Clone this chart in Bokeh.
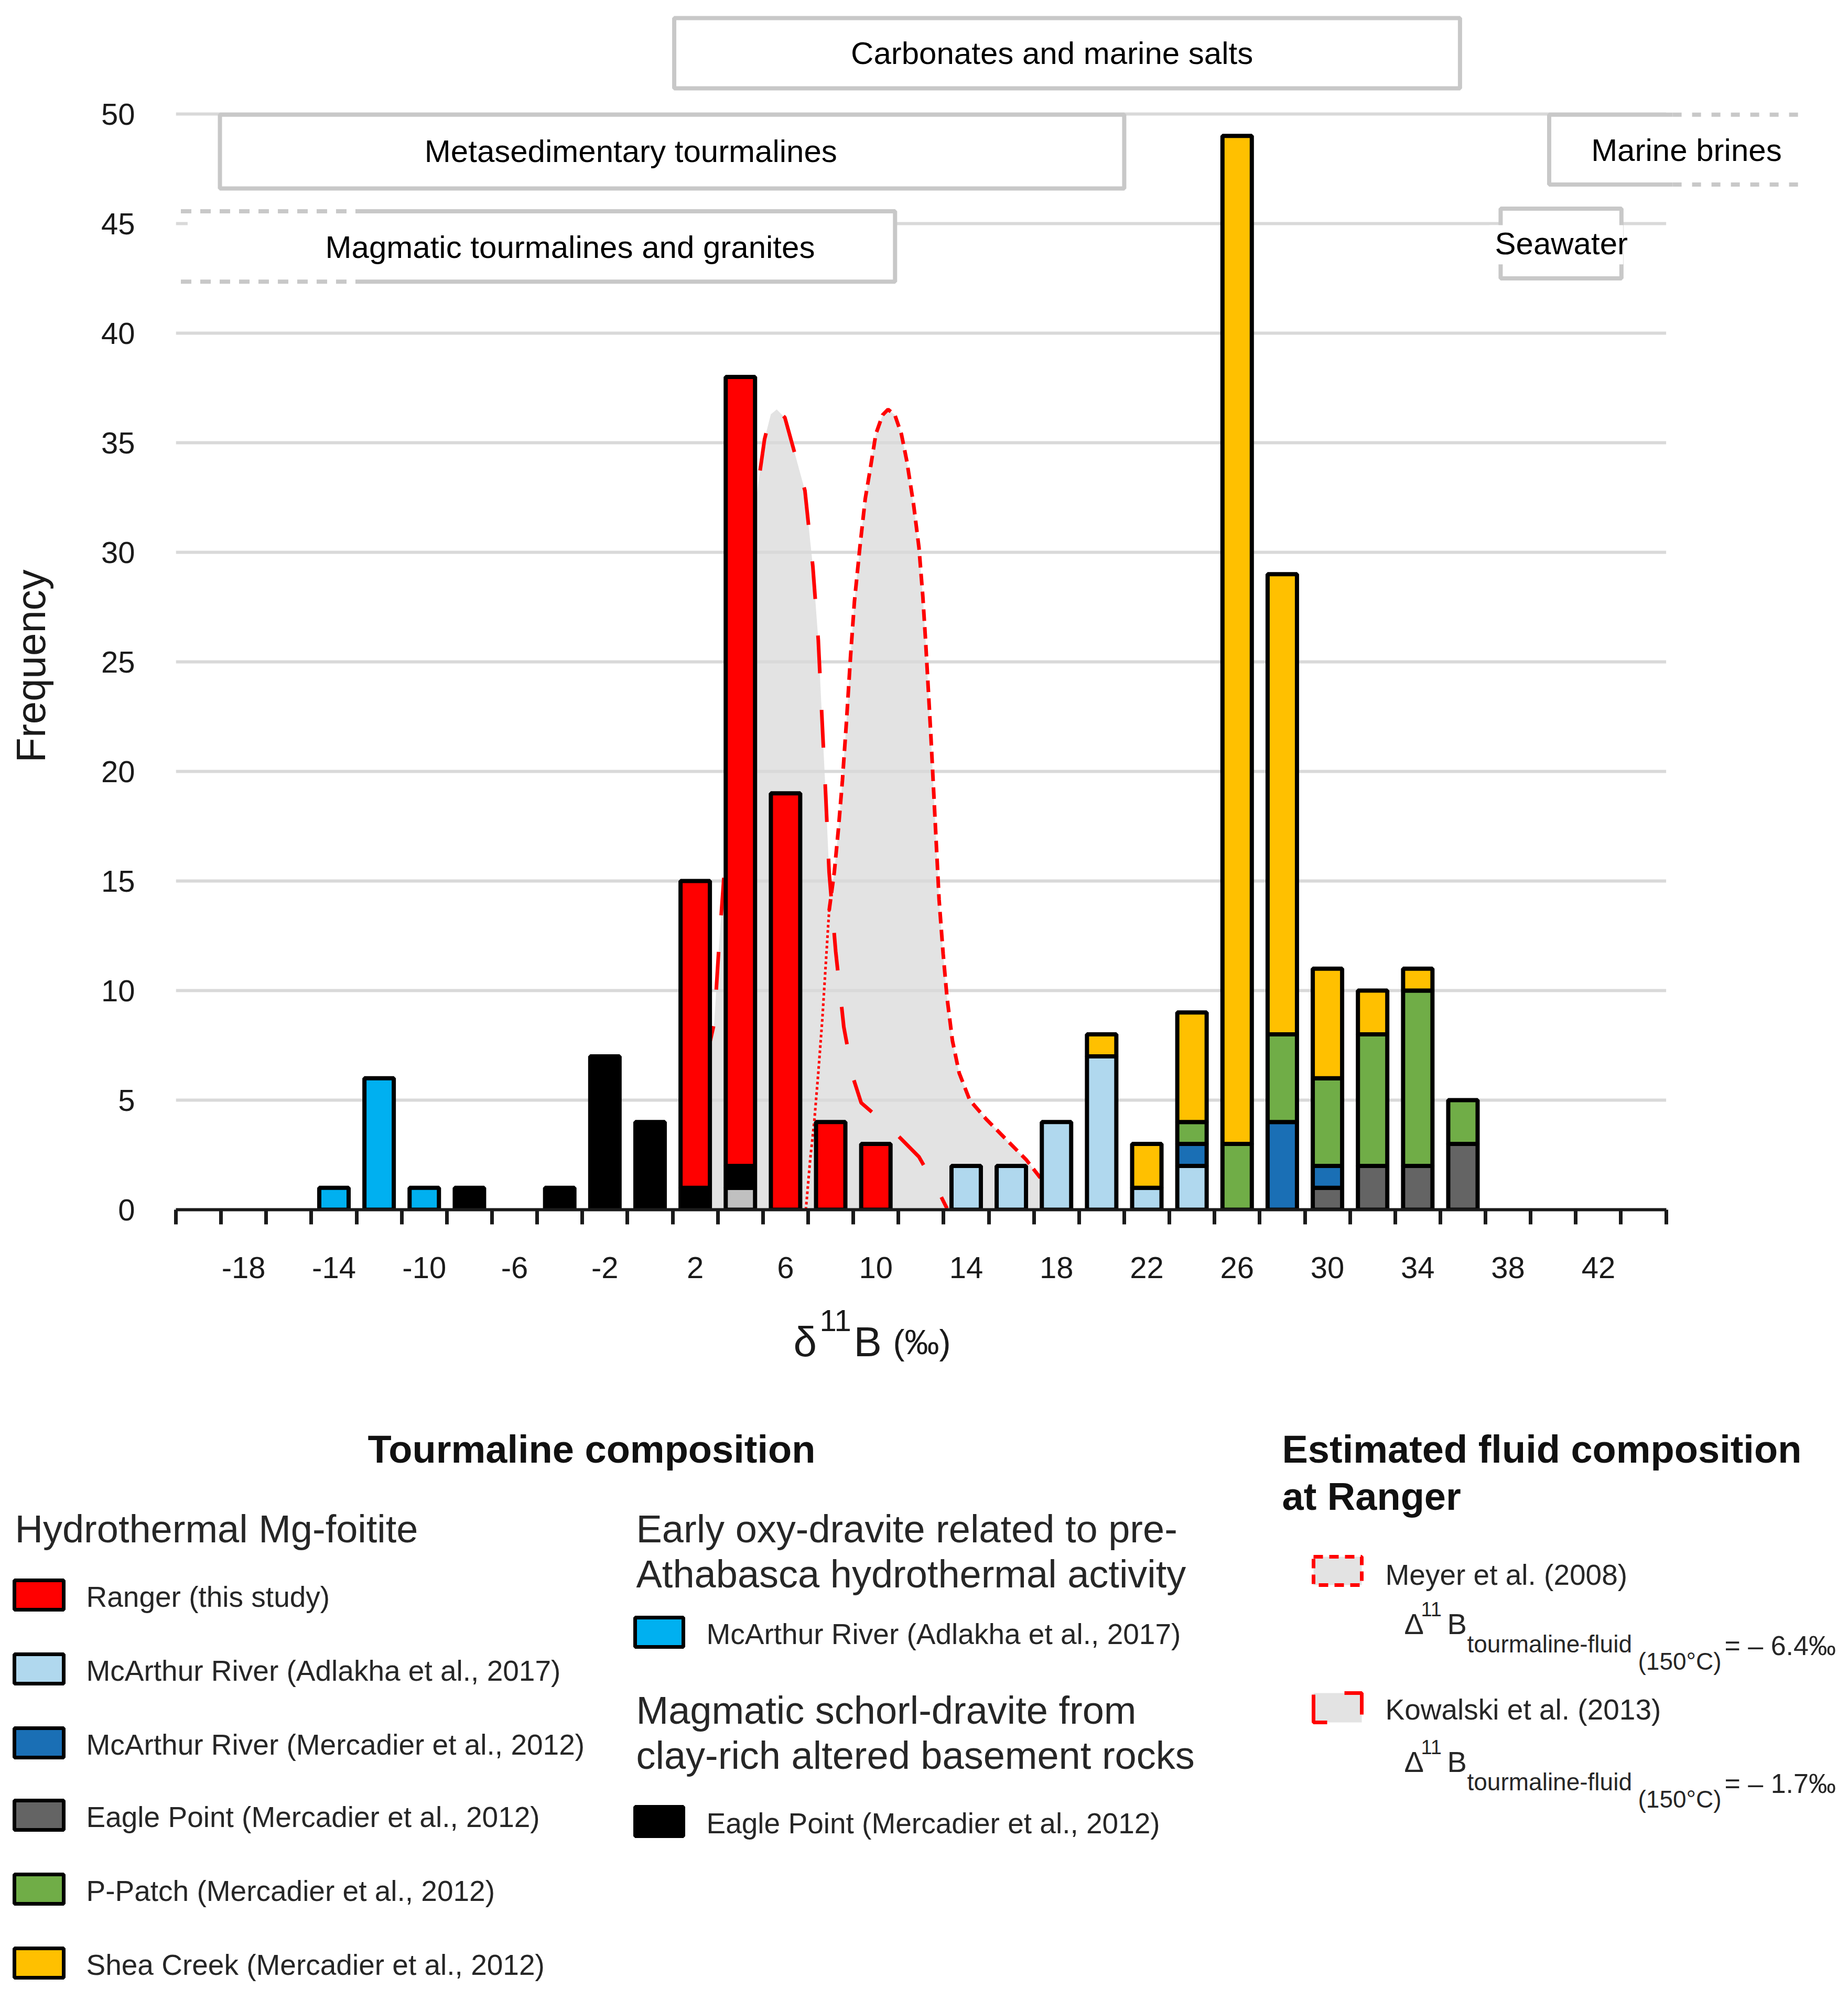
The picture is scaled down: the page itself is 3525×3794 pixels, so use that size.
import numpy as np
from bokeh.plotting import figure
from bokeh.models import Range1d, FixedTicker
from bokeh.layouts import column, row
from bokeh.embed import file_html
from bokeh.resources import INLINE
from bokeh.core.properties import value

FONT = "Liberation Sans"

# ------------------------------------------------------------------ data
categories = list(range(-20, 46, 2))          # bin centres of delta11B (permil)
bin_edges = list(range(-21, 47, 2))           # minor ticks (bin boundaries)
label_ticks = list(range(-18, 43, 4))         # labelled categories
freq_ticks = list(range(0, 51, 5))

#                    -20 -18 -16 -14 -12 -10 -8 -6 -4 -2  0  2   4   6  8  10 12 14 16 18 20 22 24 26  28 30 32 34 36 38 40 42 44
light_gray_series  = [0,  0,  0,  0,  0,  0,  0, 0, 0, 0, 0, 0,  1,  0, 0, 0, 0, 0, 0, 0, 0, 0, 0, 0,  0, 0, 0, 0, 0, 0, 0, 0, 0]
eagle_hydro        = [0,  0,  0,  0,  0,  0,  0, 0, 0, 0, 0, 0,  0,  0, 0, 0, 0, 0, 0, 0, 0, 0, 0, 0,  0, 1, 2, 2, 3, 0, 0, 0, 0]
eagle_magmatic     = [0,  0,  0,  0,  0,  0,  1, 0, 1, 7, 4, 1,  1,  0, 0, 0, 0, 0, 0, 0, 0, 0, 0, 0,  0, 0, 0, 0, 0, 0, 0, 0, 0]
mcarthur_oxy       = [0,  0,  0,  1,  6,  1,  0, 0, 0, 0, 0, 0,  0,  0, 0, 0, 0, 0, 0, 0, 0, 0, 0, 0,  0, 0, 0, 0, 0, 0, 0, 0, 0]
mcarthur_adlakha   = [0,  0,  0,  0,  0,  0,  0, 0, 0, 0, 0, 0,  0,  0, 0, 0, 0, 2, 2, 4, 7, 1, 2, 0,  0, 0, 0, 0, 0, 0, 0, 0, 0]
mcarthur_mercadier = [0,  0,  0,  0,  0,  0,  0, 0, 0, 0, 0, 0,  0,  0, 0, 0, 0, 0, 0, 0, 0, 0, 1, 0,  4, 1, 0, 0, 0, 0, 0, 0, 0]
p_patch            = [0,  0,  0,  0,  0,  0,  0, 0, 0, 0, 0, 0,  0,  0, 0, 0, 0, 0, 0, 0, 0, 0, 1, 3,  4, 4, 6, 8, 2, 0, 0, 0, 0]
shea_creek         = [0,  0,  0,  0,  0,  0,  0, 0, 0, 0, 0, 0,  0,  0, 0, 0, 0, 0, 0, 0, 1, 2, 5, 46, 21, 5, 2, 1, 0, 0, 0, 0, 0]
ranger             = [0,  0,  0,  0,  0,  0,  0, 0, 0, 0, 0, 14, 36, 19, 4, 3, 0, 0, 0, 0, 0, 0, 0, 0,  0, 0, 0, 0, 0, 0, 0, 0, 0]

RED, LIGHT_BLUE, DARK_BLUE = "#ff0000", "#b0d8ee", "#1a6fb5"
DARK_GRAY, GREEN, YELLOW = "#646464", "#70ad47", "#ffc000"
BRIGHT_BLUE, BLACK, LIGHT_GRAY = "#00b0f0", "#000000", "#c0c0c0"
FILL_GRAY, GRID, BOX = "#e3e3e3", "#d9d9d9", "#c8c8c8"

stack_series = [light_gray_series, eagle_hydro, eagle_magmatic, mcarthur_oxy,
                mcarthur_adlakha, mcarthur_mercadier, p_patch, shea_creek, ranger]
stack_colors = [LIGHT_GRAY, DARK_GRAY, BLACK, BRIGHT_BLUE,
                LIGHT_BLUE, DARK_BLUE, GREEN, YELLOW, RED]

# estimated fluid composition curves
kowalski_x = [1.4, 1.9, 2.4, 2.84, 3.05, 3.23, 3.6, 4.0, 4.4, 4.8, 5.07, 5.35, 5.61, 5.97,
              6.44, 6.86, 7.21, 7.45, 7.62, 7.78, 7.93, 8.22, 8.58, 9.0, 9.35, 10.72, 11.91, 12.74, 13.15]
kowalski_y = [0.0, 4.5, 6.5, 8.5, 12.0, 14.6, 20.0, 25.5, 30.0, 33.2, 35.16, 36.3, 36.52, 36.15,
              34.4, 32.81, 29.35, 26.0, 22.3, 18.9, 15.4, 11.8, 8.34, 6.0, 4.88, 3.65, 2.41, 0.9, 0.06]
meyer_x = [6.9, 7.09, 7.27, 7.45, 7.63, 7.93, 8.16, 8.34, 8.52, 8.70, 8.88, 9.05, 9.29, 9.53, 9.77,
           10.0, 10.3, 10.54, 10.84, 11.13, 11.37, 11.67, 11.91, 12.08, 12.2, 12.32, 12.44, 12.56,
           12.68, 12.8, 12.98, 13.15, 13.39, 13.69, 14.16, 14.88, 15.71, 16.66, 17.31, 17.9, 18.5]
meyer_y = [0.0, 2.28, 4.0, 6.24, 8.71, 13.65, 15.4, 17.36, 19.6, 22.3, 25.27, 27.74, 30.21, 32.44, 33.92,
           35.4, 36.27, 36.52, 36.27, 35.4, 34.17, 32.19, 30.21, 27.99, 26.0, 23.79, 21.56, 19.09,
           16.62, 14.15, 11.68, 9.7, 7.72, 6.24, 5.0, 4.14, 3.27, 2.28, 1.42, 0.6, 0.0]

# reference reservoirs (delta11B ranges drawn as boxes above the histogram)
carb_range = [1.07, 35.87, 51.17, 54.38]
metased_range = [-19.05, 21.0, 46.6, 49.97]
magmatic_range = [-20.78, -12.63, 10.85, 42.35, 45.56]   # start, end of dashed part, end, bottom, top
brines_range = [39.82, 45.29, 50.9, 46.78, 49.97]        # start, end of solid part, end, bottom, top
seawater_range = [37.67, 43.02, 42.5, 45.68]
reservoir_names = ["Carbonates and marine salts", "Metasedimentary tourmalines",
                   "Magmatic tourmalines and granites", "Marine brines", "Seawater"]
reservoir_text_x = [17.8, -0.85, -3.54, 45.9, 40.36]
reservoir_text_y = [52.77, 48.3, 43.93, 48.35, 44.08]

# ------------------------------------------------------------------ geometry (page pixels)
W = 3509
WL = 120                  # width of the strip holding the y-axis title
TOP = 8
H1 = 2470
H2 = 3786 - H1
LEFT = 215                # frame starts at page x = WL + LEFT
BOTTOM = 163
PX_X = 43.07
PX_Y = 41.8
WP = W - WL
x_end = -21 + (WP - LEFT) / PX_X
y_end = (H1 - BOTTOM - TOP) / PX_Y


def no_align(fig):
    if "frame_align" in fig.properties():
        fig.frame_align = False


# ------------------------------------------------------------------ main figure
p = figure(width=WP, height=H1, x_range=Range1d(-21, x_end), y_range=Range1d(0, y_end),
           output_backend="svg", toolbar_location=None,
           min_border_left=LEFT, min_border_right=0, min_border_top=TOP, min_border_bottom=BOTTOM)
no_align(p)
p.outline_line_color = None
p.background_fill_color = "white"
p.border_fill_color = "white"
p.xgrid.visible = False
p.ygrid.visible = False

# fluid composition fills
p.varea(x=kowalski_x, y1=[0] * len(kowalski_x), y2=kowalski_y, fill_color=FILL_GRAY)
p.varea(x=meyer_x, y1=[0] * len(meyer_x), y2=meyer_y, fill_color=FILL_GRAY)

# grid lines
gy = freq_ticks[1:]
p.segment(x0=[bin_edges[0]] * len(gy), x1=[bin_edges[-1]] * len(gy), y0=gy, y1=gy,
          line_color=GRID, line_width=6)

# fluid composition outlines
p.line(kowalski_x, kowalski_y, line_color="red", line_width=7, line_dash="72 70")
p.line(meyer_x[:6], meyer_y[:6], line_color="red", line_width=5, line_dash="5 5")
p.line(meyer_x[5:], meyer_y[5:], line_color="red", line_width=7, line_dash="22 12")

# stacked histogram
cats = np.array(categories, dtype=float)
base = np.zeros(len(categories))
for vals, col in zip(stack_series, stack_colors):
    v = np.array(vals, dtype=float)
    m = v > 0
    p.vbar(x=cats[m], bottom=base[m], top=(base + v)[m], width=1.30,
           fill_color=col, line_color="black", line_width=8)
    base = base + v


# reservoir boxes
def solid_box(r):
    p.quad(left=r[0], right=r[1], bottom=r[2], top=r[3], fill_color="white",
           line_color=BOX, line_width=8)


solid_box(carb_range)
solid_box(metased_range)

# magmatic: dashed on the left, open left side
m0, m1, m2, mb, mt = magmatic_range
p.quad(left=m0 + 0.3, right=m2, bottom=mb, top=mt, fill_color="white", line_color=None)
p.line([m1, m2, m2, m1], [mt, mt, mb, mb], line_color=BOX, line_width=8)
p.multi_line([[m0, m1], [m0, m1]], [[mt, mt], [mb, mb]], line_color=BOX, line_width=8,
             line_dash="20 17")

# marine brines: dashed on the right, open right side
b0, b1, b2, bb, bt = brines_range
p.quad(left=b0, right=b2, bottom=bb, top=bt, fill_color="white", line_color=None)
p.line([b1, b0, b0, b1], [bt, bt, bb, bb], line_color=BOX, line_width=8)
p.multi_line([[b1, b2], [b1, b2]], [[bt, bt], [bb, bb]], line_color=BOX, line_width=8,
             line_dash="17 20")

# seawater box (text background breaks its sides)
solid_box(seawater_range)
p.quad(left=37.17, right=43.1, bottom=43.14, top=44.93, fill_color="white", line_color=None)

p.text(x=reservoir_text_x, y=reservoir_text_y, text=reservoir_names,
       text_font=value(FONT), text_font_size="60px", text_align="center",
       text_baseline="middle", text_color="black")

# axes
xa = p.xaxis[0]
xa.bounds = (bin_edges[0], bin_edges[-1])
xa.ticker = FixedTicker(ticks=label_ticks, minor_ticks=bin_edges)
xa.major_label_overrides = {t: str(t) for t in label_ticks}
xa.axis_line_color = "#1a1a1a"
xa.axis_line_width = 6
xa.major_tick_in = 0
xa.major_tick_out = 0
xa.major_tick_line_color = None
xa.minor_tick_in = 0
xa.minor_tick_out = 28
xa.minor_tick_line_width = 7
xa.minor_tick_line_color = "#1a1a1a"
xa.major_label_standoff = 62
xa.major_label_text_font = FONT
xa.major_label_text_font_size = "58px"
xa.major_label_text_color = "#1a1a1a"

ya = p.yaxis[0]
ya.ticker = FixedTicker(ticks=freq_ticks, minor_ticks=[])
ya.axis_line_color = None
ya.major_tick_line_color = None
ya.minor_tick_line_color = None
ya.major_tick_in = 0
ya.major_tick_out = 0
ya.major_label_standoff = 78
ya.major_label_text_font = FONT
ya.major_label_text_font_size = "58px"
ya.major_label_text_color = "#1a1a1a"

# ------------------------------------------------------------------ y-axis title strip
pl = figure(width=WL, height=H1, x_range=Range1d(0, WL), y_range=Range1d(H1, 0),
            output_backend="svg", toolbar_location=None, x_axis_type=None, y_axis_type=None,
            min_border=0, min_border_left=0, min_border_right=0, min_border_top=0,
            min_border_bottom=0)
no_align(pl)
pl.outline_line_color = None
pl.text(x=[58], y=[1270], text=["Frequency"], angle=np.pi / 2, text_font=value(FONT),
        text_font_size="78px", text_align="center", text_baseline="alphabetic",
        text_color="#1a1a1a")

# ------------------------------------------------------------------ legend figure
q = figure(width=W, height=H2, x_range=Range1d(0, W), y_range=Range1d(H1 + H2, H1),
           output_backend="svg", toolbar_location=None, x_axis_type=None, y_axis_type=None,
           min_border=0, min_border_left=0, min_border_right=0, min_border_top=0,
           min_border_bottom=0)
no_align(q)
q.outline_line_color = None

TXT = "#262626"


def texts(xs, ys, ts, size, bold=False, align="left", color=TXT, baseline="middle"):
    q.text(x=xs, y=ys, text=ts, text_font=value(FONT), text_font_size=size,
           text_font_style="bold" if bold else "normal", text_align=align,
           text_baseline=baseline, text_color=color)


def swatches(x0, x1, yc, colors, h=56):
    q.quad(left=[x0] * len(yc), right=[x1] * len(yc),
           top=[y - h / 2 for y in yc], bottom=[y + h / 2 for y in yc],
           fill_color=colors, line_color="black", line_width=7)


# x-axis title: delta 11 B (permil)
texts([1513, 1628], [2559, 2559], ["δ", "B"], "80px", color="#1a1a1a", baseline="alphabetic")
texts([1563], [2518], ["11"], "58px", color="#1a1a1a", baseline="alphabetic")
texts([1703], [2559], ["(‰)"], "66px", color="#1a1a1a", baseline="alphabetic")

# headings
texts([1128], [2764], ["Tourmaline composition"], "74px", bold=True, align="center", color="#111111")
texts([2445, 2445], [2764, 2854], ["Estimated fluid composition", "at Ranger"], "74px", bold=True,
      color="#111111")

# hydrothermal Mg-foitite column
hydro_labels = ["Ranger (this study)", "McArthur River (Adlakha et al., 2017)",
                "McArthur River (Mercadier et al., 2012)", "Eagle Point (Mercadier et al., 2012)",
                "P-Patch (Mercadier et al., 2012)", "Shea Creek (Mercadier et al., 2012)"]
hydro_colors = [RED, LIGHT_BLUE, DARK_BLUE, DARK_GRAY, GREEN, YELLOW]
hydro_rows = [3042, 3183, 3324, 3462, 3603, 3744]
texts([28], [2916], ["Hydrothermal Mg-foitite"], "74px")
swatches(27, 121, hydro_rows, hydro_colors)
texts([164] * 6, [y + 3 for y in hydro_rows], hydro_labels, "55px")

# middle column
texts([1213, 1213, 1213, 1213], [2916, 3002, 3262, 3348],
      ["Early oxy-dravite related to pre-", "Athabasca hydrothermal activity",
       "Magmatic schorl-dravite from", "clay-rich altered basement rocks"], "74px")
mid_rows = [3113, 3474]
swatches(1211, 1303, mid_rows, [BRIGHT_BLUE, BLACK])
texts([1347, 1347], [y + 3 for y in mid_rows],
      ["McArthur River (Adlakha et al., 2017)", "Eagle Point (Mercadier et al., 2012)"], "55px")

# fluid legend
q.quad(left=[2505], right=[2597], top=[2969], bottom=[3023], fill_color=FILL_GRAY,
       line_color="red", line_width=7, line_dash="18 12")
q.quad(left=[2505], right=[2597], top=[3229], bottom=[3285], fill_color=FILL_GRAY, line_color=None)
q.multi_line([[2505, 2505, 2531], [2564, 2597, 2597]], [[3232, 3285, 3285], [3229, 3229, 3270]],
             line_color="red", line_width=7)
texts([2642, 2642], [3003, 3260], ["Meyer et al. (2008)", "Kowalski et al. (2013)"], "55px")

for dy, res in [(0, "= – 6.4‰"), (263, "= – 1.7‰")]:
    texts([2678, 2760], [3097 + dy, 3097 + dy], ["Δ", "B"], "56px")
    texts([2710], [3069 + dy], ["11"], "38px")
    texts([2798], [3135 + dy], ["tourmaline-fluid"], "46px")
    texts([3124], [3168 + dy], ["(150°C)"], "46px")
    texts([3289], [3138 + dy], [res], "52px")

layout = column(row(pl, p), q)
open("out.html", "w").write(file_html(layout, INLINE))
